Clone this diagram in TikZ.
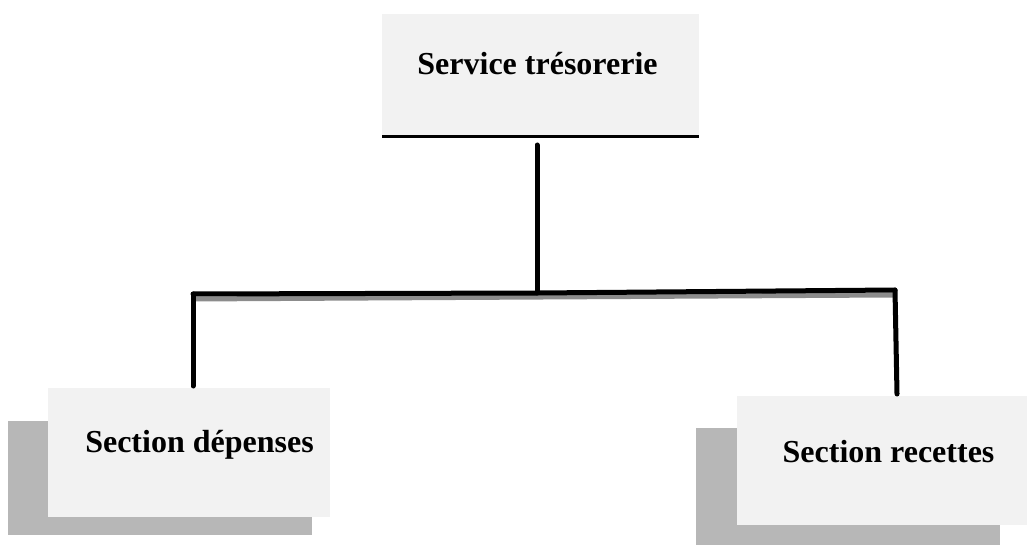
\documentclass[tikz,border=0pt]{standalone}
\usepackage{fontspec}
\setmainfont{Liberation Serif}
\definecolor{boxfill}{HTML}{F2F2F2}
\definecolor{shade}{HTML}{B7B7B7}
\definecolor{lineshade}{HTML}{8C8C8C}
\begin{document}
\begin{tikzpicture}[x=1pt,y=-1pt,
  panel/.style={fill=boxfill, draw=none, inner sep=0pt, anchor=north west},
  shadow/.style={fill=shade, draw=none, inner sep=0pt, anchor=north west},
  caption/.style={font=\fontsize{32}{38}\selectfont\bfseries, anchor=base, inner sep=0pt},
  link/.style={line width=5pt, line cap=round, black},
  linkshade/.style={line width=5pt, lineshade}]
\useasboundingbox (0,0) rectangle (1027,545);

% top box
\node[panel, minimum width=317pt, minimum height=122pt] (top) at (382,14) {};
\draw[line width=3pt] (top.south west) -- (top.south east);
\node[caption] (toptext) at (537.5,75) {Service trésorerie};

% left box with its shadow
\node[shadow, minimum width=304pt, minimum height=114pt] (lshadow) at (8,421) {};
\node[panel, minimum width=282pt, minimum height=129pt] (left) at (48,388) {};
\node[caption] (lefttext) at (199.5,452) {Section dépenses};

% right box with its shadow
\node[shadow, minimum width=304pt, minimum height=117pt] (rshadow) at (696,428) {};
\node[panel, minimum width=290pt, minimum height=129pt] (right) at (737,396) {};
\node[caption] (righttext) at (888.5,462) {Section recettes};

% connectors
\coordinate (jl) at (193,294);
\coordinate (jm) at (537,293);
\coordinate (jr) at (895,290);
\coordinate (sl) at (193,299);
\coordinate (sr) at (893,295);
\draw[linkshade] (sl) -- (sr);
\draw[link] (jl) -- (jm) -- (jr);
\draw[link] (537,145) -- (jm);
\draw[link] (jl) -- (193,386);
\draw[link] (jr) -- (897,394);
\end{tikzpicture}
\end{document}
